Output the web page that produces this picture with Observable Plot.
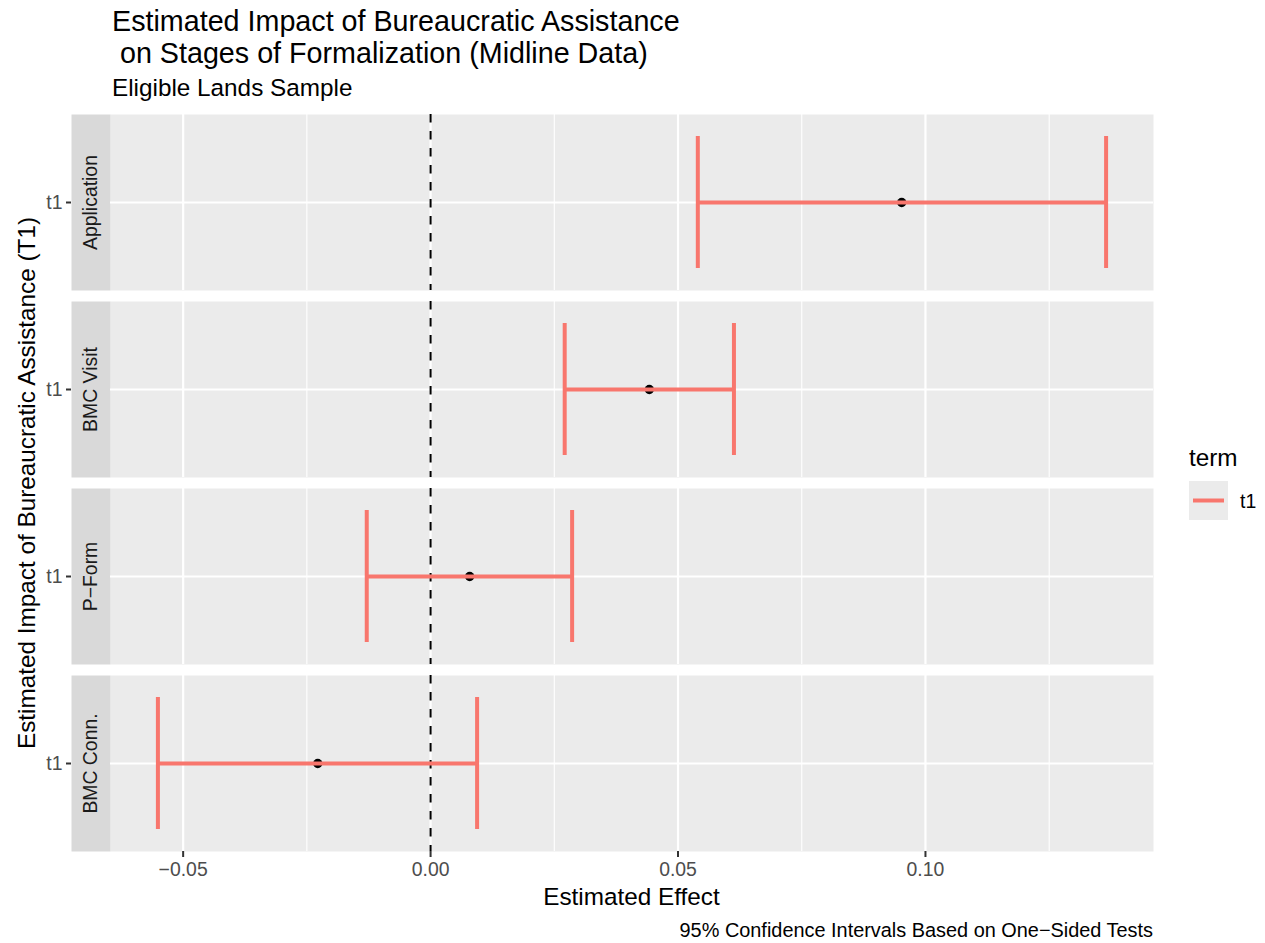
<!DOCTYPE html>
<html><head><meta charset="utf-8">
<script src="https://cdn.jsdelivr.net/npm/d3@7"></script>
<script src="https://cdn.jsdelivr.net/npm/@observablehq/plot@0.6"></script>
<style>
body{margin:0;background:#fff;}
#wrap{position:relative;width:1265px;height:943px;}
</style></head><body><div id="wrap"></div>
<script>
// ---- data ----
const outcomes = ["Application", "BMC Visit", "P\u2212Form", "BMC Conn."];
const terms = ["t1", "t1", "t1", "t1"];
const estimates = [0.0952, 0.0442, 0.0079, -0.0228];
const lowers = [0.0540, 0.0271, -0.0129, -0.0551];
const uppers = [0.1365, 0.0613, 0.0286, 0.0094];
const xTicks = [-0.05, 0, 0.05, 0.10];
const xMinorTicks = [-0.025, 0.025, 0.075, 0.125];
const legendTerms = ["t1"];

const FONT = "'Liberation Sans', Arial, Helvetica, sans-serif";
const RED = "#F8766D";
const data = outcomes.map((o, i) => ({outcome: o, term: terms[i], est: estimates[i], lo: lowers[i], hi: uppers[i]}));

const W = 1265, H = 943, mL = 110, mR = 112, mT = 114, mB = 91, stripW = 39;
const panelW = W - mL - mR;
const lo = d3.min(lowers), hi = d3.max(uppers), pad = (hi - lo) * 0.05;

const chart = Plot.plot({
  width: W, height: H,
  marginLeft: mL, marginRight: mR, marginTop: mT, marginBottom: mB,
  style: {fontFamily: FONT, fontSize: "19.4px", background: "white", overflow: "visible"},
  x: {domain: [lo - pad, hi + pad], axis: null},
  y: {type: "band", domain: ["t1"], padding: 1 / 7, axis: null},
  fy: {domain: outcomes, paddingInner: 0.0587, paddingOuter: 0, axis: null},
  marks: [
    Plot.frame({fill: "#EBEBEB"}),
    Plot.frame({fill: "#D9D9D9", insetLeft: -stripW, insetRight: panelW}),
    Plot.gridX(xMinorTicks, {stroke: "white", strokeOpacity: 1, strokeWidth: 1.1}),
    Plot.gridX(xTicks, {stroke: "white", strokeOpacity: 1, strokeWidth: 2.2}),
    Plot.gridY(["t1"], {stroke: "white", strokeOpacity: 1, strokeWidth: 2.2}),
    Plot.ruleX([0], {stroke: "black", strokeWidth: 2, strokeDasharray: "8.5,8.5"}),
    Plot.dot(data, {x: "est", y: "term", fy: "outcome", r: 4.7, fill: "black", stroke: null}),
    Plot.ruleY(data, {x1: "lo", x2: "hi", y: "term", fy: "outcome", stroke: RED, strokeWidth: 4}),
    Plot.tickX(data, {x: "lo", y: "term", fy: "outcome", stroke: RED, strokeWidth: 4}),
    Plot.tickX(data, {x: "hi", y: "term", fy: "outcome", stroke: RED, strokeWidth: 4}),
    Plot.text(outcomes, {fy: d => d, text: d => d, frameAnchor: "left", textAnchor: "middle", lineAnchor: "middle", rotate: -90, dx: -stripW / 2, fill: "#1A1A1A", fontSize: 19.4}),
    Plot.axisY({anchor: "left", dx: -stripW, tickSize: 5, tickPadding: 4, stroke: "#333333", strokeWidth: 2, fill: "#4D4D4D", fontSize: 19.4, label: null}),
    Plot.axisX(xTicks, {anchor: "bottom", tickSize: 6, tickPadding: 5, tickFormat: d3.format(".2f"), stroke: "#333333", strokeWidth: 2, fill: "#4D4D4D", fontSize: 19.4, label: null})
  ]
});
document.getElementById("wrap").appendChild(chart);

// ---- annotations: titles, axis titles, caption, legend ----
const svg = d3.select(chart);
const g = svg.append("g").attr("font-family", FONT);
const addText = (x, y, txt, size, opts = {}) => {
  const t = g.append("text").attr("x", x).attr("y", y).attr("font-size", size)
    .attr("fill", opts.fill || "black").attr("text-anchor", opts.anchor || "start")
    .style("white-space", "pre").text(txt);
  if (opts.transform) t.attr("transform", opts.transform).attr("x", 0).attr("y", 0);
  return t;
};
addText(112, 31, "Estimated Impact of Bureaucratic Assistance", 28.7);
addText(112, 63, " on Stages of Formalization (Midline Data)", 28.7);
addText(112, 96, "Eligible Lands Sample", 24.3);
addText(0, 0, "Estimated Effect", 24.3, {anchor: "middle", transform: `translate(${mL + panelW / 2},905)`});
addText(0, 0, "Estimated Impact of Bureaucratic Assistance (T1)", 24.3, {anchor: "middle", transform: `translate(35,${(mT + H - mB) / 2}) rotate(-90)`});
addText(W - mR, 937, "95% Confidence Intervals Based on One\u2212Sided Tests", 19.9, {anchor: "end"});

// legend
addText(1189, 466, "term", 24.3);
legendTerms.forEach((t, i) => {
  const y0 = 481 + i * 39;
  g.append("rect").attr("x", 1189).attr("y", y0).attr("width", 39).attr("height", 39).attr("fill", "#EBEBEB");
  g.append("line").attr("x1", 1193).attr("x2", 1224).attr("y1", y0 + 19.5).attr("y2", y0 + 19.5)
    .attr("stroke", RED).attr("stroke-width", 4);
  addText(1240, y0 + 26.5, t, 19.4);
});
</script></body></html>
